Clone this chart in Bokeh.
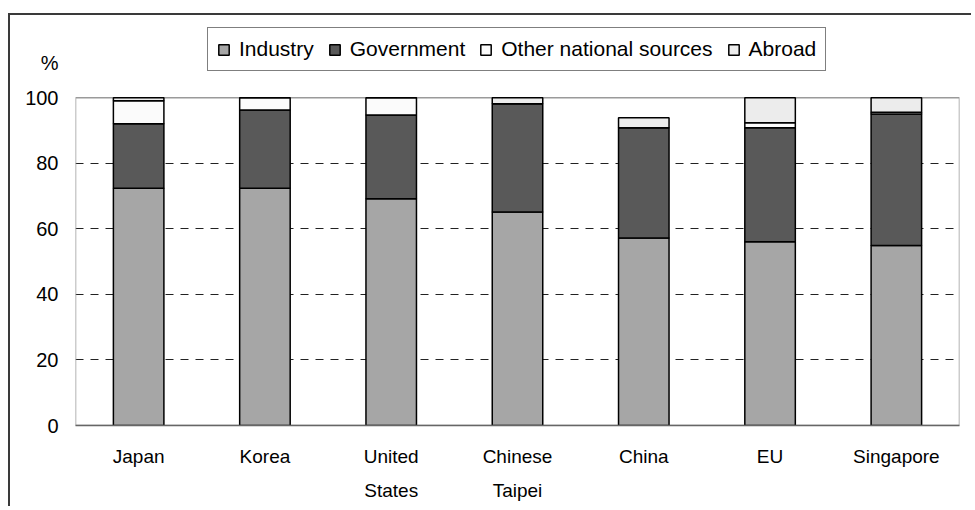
from bokeh.plotting import figure
from bokeh.models import (ColumnDataSource, Range1d, FixedTicker, Legend, LegendItem)
from bokeh.embed import file_html
from bokeh.resources import INLINE

# ---- data ----
countries = ["Japan", "Korea", "United\nStates", "Chinese\nTaipei", "China", "EU", "Singapore"]
industry = [72.4, 72.4, 69.2, 65.2, 57.2, 56.1, 54.9]
government = [19.7, 23.9, 25.6, 33.0, 33.7, 34.8, 40.2]
other_national = [7.0, 3.7, 5.2, 0.0, 0.0, 1.5, 0.5]
abroad = [0.9, 0.0, 0.0, 1.8, 3.0, 7.6, 4.4]
series_names = ["Industry", "Government", "Other national sources", "Abroad"]
y_ticks = [0, 20, 40, 60, 80, 100]
grid_ticks = [20, 40, 60, 80]
unit_label = "%"
unit_pos = 110.7          # where the unit sits on the value axis (above 100)

colors = ["#a6a6a6", "#595959", "#fbfbfb", "#ececec"]
FONT = "Liberation Sans"

n = len(countries)
xpos = [i + 0.5 for i in range(n)]
src = ColumnDataSource(data=dict(x=xpos, industry=industry, government=government,
                                 other=other_national, abroad=abroad))

W, H = 963, 493
p = figure(x_range=Range1d(0, n), y_range=Range1d(0, 123),
           width=W, height=H, output_backend="svg", toolbar_location=None,
           min_border_left=65, min_border_right=14, min_border_top=7,
           min_border_bottom=83)
p.styles = {"border-left": "2px solid #3a3a3a", "border-top": "2px solid #3a3a3a",
            "margin-top": "13px", "margin-left": "8px"}
p.outline_line_color = None
p.background_fill_color = "white"
p.border_fill_color = "white"

# plot-area box (0..100 on the value axis, across all categories)
p.quad(left=[0], right=[n], bottom=[y_ticks[0]], top=[y_ticks[-1]],
       fill_color=None, line_color="#9a9a9a", line_width=1.5)

renderers = p.vbar_stack(["industry", "government", "other", "abroad"], x="x",
                         width=0.4, source=src, fill_color=colors,
                         line_color="black", line_width=1.5)

# y axis (values + unit label)
p.yaxis.ticker = FixedTicker(ticks=y_ticks + [unit_pos])
p.yaxis.major_label_overrides = {unit_pos: unit_label}
p.yaxis.major_tick_out = 0
p.yaxis.major_tick_in = 0
p.yaxis.minor_tick_out = 0
p.yaxis.minor_tick_in = 0
p.yaxis.axis_line_color = None
p.yaxis.major_label_standoff = 17
p.yaxis.major_label_text_font = FONT
p.yaxis.major_label_text_font_size = "20px"
p.yaxis.major_label_text_color = "black"

# x axis (categories)
p.xaxis.ticker = FixedTicker(ticks=xpos)
p.xaxis.major_label_overrides = {x: c for x, c in zip(xpos, countries)}
p.xaxis.major_tick_out = 0
p.xaxis.major_tick_in = 0
p.xaxis.minor_tick_out = 0
p.xaxis.minor_tick_in = 0
p.xaxis.axis_line_color = "#666666"
p.xaxis.axis_line_width = 1.5
p.xaxis.major_label_standoff = 20
p.xaxis.major_label_text_font = FONT
p.xaxis.major_label_text_font_size = "19px"
p.xaxis.major_label_text_color = "black"
p.xaxis.major_label_text_line_height = 1.65

# grid
p.xgrid.visible = False
p.ygrid.ticker = FixedTicker(ticks=grid_ticks)
p.ygrid.grid_line_color = "#222222"
p.ygrid.grid_line_dash = "8 7"
p.ygrid.grid_line_width = 1

# legend
items = [LegendItem(label=s, renderers=[r]) for s, r in zip(series_names, renderers)]
legend = Legend(items=items, orientation="horizontal", location=(132, 354),
                border_line_color="black", border_line_width=1,
                padding=9, spacing=14, label_standoff=9, margin=0,
                glyph_width=13, glyph_height=13, label_height=23,
                label_text_font=FONT, label_text_font_size="21px",
                label_text_color="black", background_fill_color="white",
                background_fill_alpha=1)
p.add_layout(legend)

open("out.html", "w").write(file_html(p, INLINE))
